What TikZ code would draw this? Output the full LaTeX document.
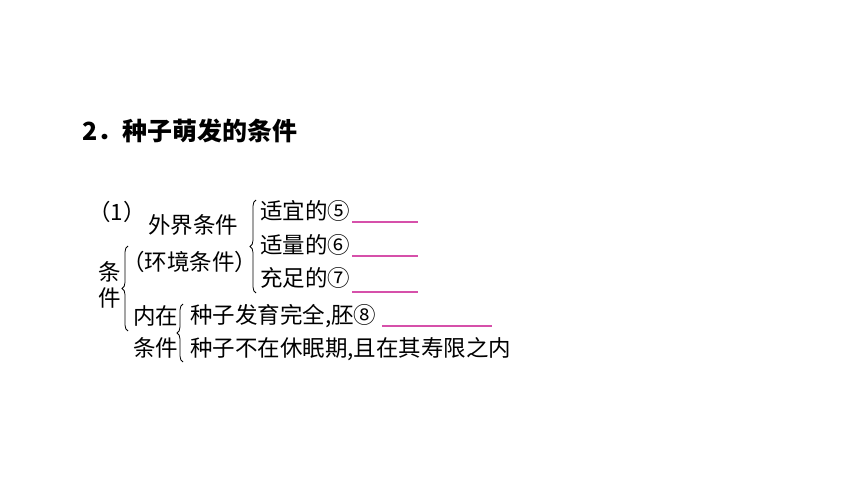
\documentclass[tikz,border=0pt]{standalone}
\usepackage{fontspec}
\setmainfont{Noto Sans CJK SC}
\usetikzlibrary{decorations.pathreplacing}
\definecolor{blankline}{RGB}{214,80,170}

\begin{document}
\begin{tikzpicture}[x=1pt,y=-1pt]
      \useasboundingbox (0,0) rectangle (860,484);
      \tikzset{txt/.style={anchor=west,inner sep=0pt,font=\fontsize{22.5}{22.5}\selectfont},
               brc/.style={decorate,decoration={brace,amplitude=6pt},line width=0.8pt},
               blank/.style={blankline,line width=1.2pt}}

      \node[anchor=west,inner sep=0pt,font=\fontsize{25}{25}\selectfont\bfseries] (title) at (82,131) {2．种子萌发的条件};

      \node[txt] (num) at (88,212) {（1）};
      \node[txt] (outer) at (148,225) {外界条件};
      \node[txt] (env) at (122,262) {（环境条件）};
      \node[txt] (cond1) at (98,272) {条};
      \node[txt] (cond2) at (98,298) {件};
      \node[txt] (inner1) at (133,316) {内在};
      \node[txt] (inner2) at (133,348) {条件};

      \node[txt] (temp) at (260,211) {适宜的⑤};
      \node[txt] (water) at (260,245) {适量的⑥};
      \node[txt] (air) at (260,278) {充足的⑦};
      \node[txt] (embryo) at (190,316) {种子发育完全,胚⑧};
      \node[txt] (dormant) at (190,349) {种子不在休眠期,且在其寿限之内};

      % braces
      \draw[brc] (128,331) -- (128,246);
      \draw[brc] (256,293) -- (256,200);
      \draw[brc] (183,362) -- (183,304);

      % blanks
      \coordinate (b5) at (352,222);
      \coordinate (b6) at (352,256);
      \coordinate (b7) at (352,292);
      \coordinate (b8) at (382,326);
      \draw[blank] (b5) -- ++(66,0);
      \draw[blank] (b6) -- ++(66,0);
      \draw[blank] (b7) -- ++(66,0);
      \draw[blank] (b8) -- ++(110,0);
\end{tikzpicture}
\end{document}
